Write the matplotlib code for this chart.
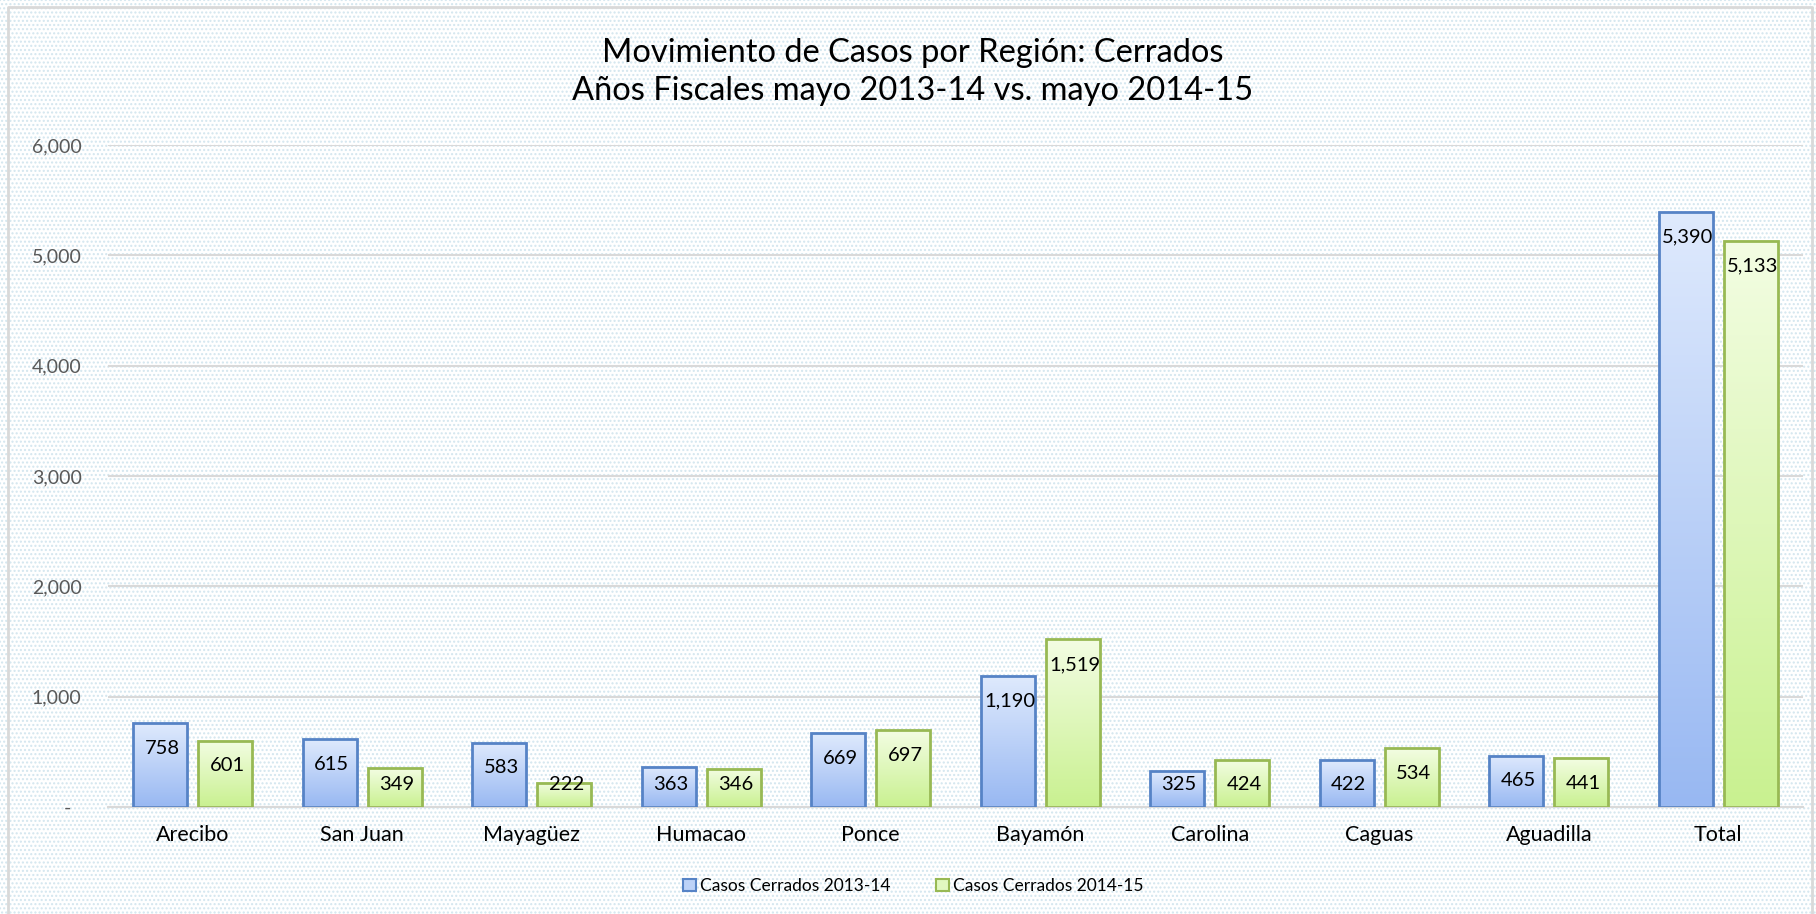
import numpy as np
import matplotlib.pyplot as plt
from matplotlib.patches import Rectangle, Patch
from matplotlib.colors import LinearSegmentedColormap
from matplotlib.ticker import FuncFormatter, MultipleLocator
from matplotlib.lines import Line2D

plt.rcParams['font.family'] = ['Lato', 'DejaVu Sans']

# Data
regions = ["Arecibo", "San Juan", "Mayagüez", "Humacao", "Ponce",
           "Bayamón", "Carolina", "Caguas", "Aguadilla", "Total"]
cerrados_2013_14 = [758, 615, 583, 363, 669, 1190, 325, 422, 465, 5390]
cerrados_2014_15 = [601, 349, 222, 346, 697, 1519, 424, 534, 441, 5133]
series_names = ["Casos Cerrados 2013-14", "Casos Cerrados 2014-15"]
title = "Movimiento de Casos por Región: Cerrados\nAños Fiscales mayo 2013-14 vs. mayo 2014-15"

W, H = 1816, 914
fig = plt.figure(figsize=(W / 100, H / 100), dpi=100)

# dotted background like the Excel pattern fill
bg = Rectangle((0, 0), 1, 1, transform=fig.transFigure, facecolor='white',
               hatch='....', edgecolor='#d3e6ef', lw=0, zorder=-10)
fig.patches.append(bg)
# chart border
fig.add_artist(Line2D([8 / W, 8 / W, 1812 / W, 1812 / W], [0, 1 - 7 / H, 1 - 7 / H, 0],
                      transform=fig.transFigure, color='#d9d9d9', lw=2))

ax = fig.add_axes([108 / W, 1 - 807 / H, (1803 - 108) / W, (807 - 145) / H])
ax.set_facecolor('none')

blue_cmap = LinearSegmentedColormap.from_list('b', ['#98b8f2', '#dfeafd'])
green_cmap = LinearSegmentedColormap.from_list('g', ['#c9f190', '#f3fde3'])
grad = np.linspace(0, 1, 256).reshape(-1, 1)

x = np.arange(len(regions))
bw = 0.319
off = 0.193

for vals, cmap, edge, dx in [(cerrados_2013_14, blue_cmap, '#5683c6', -off),
                             (cerrados_2014_15, green_cmap, '#98b954', off)]:
    for xi, v in zip(x, vals):
        x0, x1 = xi + dx - bw / 2, xi + dx + bw / 2
        ax.imshow(grad, extent=[x0, x1, 0, v], origin='lower', aspect='auto',
                  cmap=cmap, zorder=2, interpolation='bilinear')
        ax.add_patch(Rectangle((x0, 0), bw, v, facecolor='none', edgecolor=edge,
                               lw=2, zorder=3))
        ax.text(xi + dx + 0.012, max(v - 227, 200), f"{v:,}", ha='center', va='center',
                fontsize=14.5, color='black', zorder=4)

ax.set_xlim(-0.5, len(regions) - 0.5)
ax.set_ylim(0, 6000)
ax.yaxis.set_major_locator(MultipleLocator(1000))
ax.yaxis.set_major_formatter(FuncFormatter(lambda v, p: "-  " if v == 0 else f"{int(v):,}"))
ax.grid(axis='y', color='#d9d9d9', lw=1.5, zorder=0)
ax.set_axisbelow(True)
for s in ['top', 'right', 'left']:
    ax.spines[s].set_visible(False)
ax.spines['bottom'].set_color('#d9d9d9')
ax.spines['bottom'].set_linewidth(1.5)
ax.set_xticks(x)
ax.set_xticklabels(regions, fontsize=15.5)
ax.tick_params(axis='x', length=0, pad=13)
ax.tick_params(axis='y', length=0, pad=19, labelsize=14, labelcolor='#595959')

fig.text(913 / W, 1 - 72 / H, title, ha='center', va='center', fontsize=23.5,
         linespacing=1.3)

handles = [Patch(facecolor='#bcd2f8', edgecolor='#5683c6', lw=1.5),
           Patch(facecolor='#e2f8c0', edgecolor='#98b954', lw=1.5)]
fig.legend(handles, series_names, loc='center', bbox_to_anchor=(913 / W, 1 - 886 / H),
           ncol=2, frameon=False, fontsize=12.5, handlelength=0.75, handleheight=0.75,
           handletextpad=0.25, columnspacing=2.6)

fig.savefig('out.png', dpi=100)
